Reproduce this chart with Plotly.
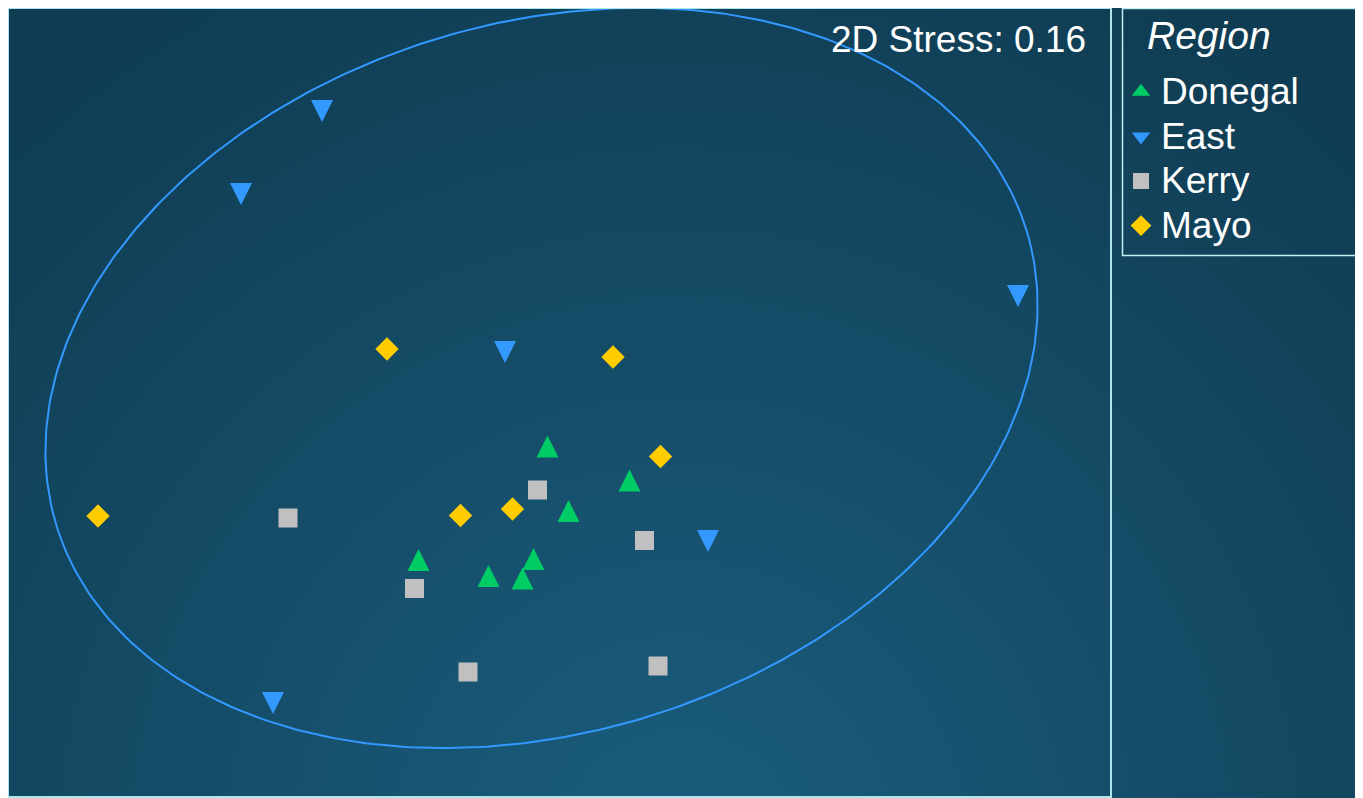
import base64
import numpy as np
import plotly.graph_objects as go

# ---------------- data (NMDS scores) ----------------
regions = ["Donegal", "East", "Kerry", "Mayo"]

donegal_x = [-0.024, 0.140, 0.018, -0.282, -0.142, -0.052, -0.074]
donegal_y = [-0.088, -0.156, -0.217, -0.315, -0.347, -0.313, -0.352]

east_x = [-0.475, -0.637, -0.109, 0.917, 0.297, -0.573]
east_y = [0.583, 0.417, 0.101, 0.213, -0.277, -0.601]

kerry_x = [-0.044, 0.170, -0.290, -0.543, -0.183, 0.197]
kerry_y = [-0.175, -0.276, -0.372, -0.231, -0.539, -0.527]

mayo_x = [-0.198, -0.094, 0.202, -0.923, -0.345, 0.107]
mayo_y = [-0.226, -0.213, -0.108, -0.227, 0.107, 0.091]

stress_label = "2D Stress: 0.16"
legend_title = "Region"

# East confidence ellipse parameters
ellipse_center = (-0.036, 0.049)
ellipse_axes = (1.014, 0.710)
ellipse_angle_deg = 16.8

# ---------------- layout geometry ----------------
OFF = 8                      # page offset of the figure (body margin)
W, H = 1363, 798
ML, MT = 1, 1
plot_w, plot_h = 1101, 787
MR = W - ML - plot_w
MB = H - MT - plot_h
x_range = [-1.101, 1.101]
y_range = [-0.787, 0.787]
px_per_unit_y = plot_h / (y_range[1] - y_range[0])


def px(page_x):
    return (page_x - OFF - ML) / plot_w


def py(page_y):
    return 1 - (page_y - OFF - MT) / plot_h


colors = {"Donegal": "#00cc66", "East": "#3399ff", "Kerry": "#c0c0c0", "Mayo": "#ffcc00"}
FONT = "Liberation Sans, Arial, sans-serif"
FRAME = "#aee4ec"

fig = go.Figure()

# ellipse
t = np.linspace(0, 2 * np.pi, 400)
ang = np.deg2rad(ellipse_angle_deg)
ex = ellipse_center[0] + ellipse_axes[0] * np.cos(t) * np.cos(ang) - ellipse_axes[1] * np.sin(t) * np.sin(ang)
ey = ellipse_center[1] + ellipse_axes[0] * np.cos(t) * np.sin(ang) + ellipse_axes[1] * np.sin(t) * np.cos(ang)
fig.add_trace(go.Scatter(x=ex, y=ey, mode="lines", line=dict(color=colors["East"], width=2),
                         hoverinfo="skip", showlegend=False))

# triangles use arrow symbols (tip at anchor) -> shift anchor so shape centres on the value
tri_size = 22
tri_shift = (tri_size / 2) / px_per_unit_y

fig.add_trace(go.Scatter(x=donegal_x, y=[v + tri_shift for v in donegal_y], mode="markers",
                         marker=dict(symbol="arrow-up", size=tri_size, color=colors["Donegal"], line=dict(width=0)),
                         name="Donegal", showlegend=False))
fig.add_trace(go.Scatter(x=east_x, y=[v - tri_shift for v in east_y], mode="markers",
                         marker=dict(symbol="arrow-down", size=tri_size, color=colors["East"], line=dict(width=0)),
                         name="East", showlegend=False))
fig.add_trace(go.Scatter(x=kerry_x, y=kerry_y, mode="markers",
                         marker=dict(symbol="square", size=19, color=colors["Kerry"], line=dict(width=0)),
                         name="Kerry", showlegend=False))
fig.add_trace(go.Scatter(x=mayo_x, y=mayo_y, mode="markers",
                         marker=dict(symbol="diamond", size=18, color=colors["Mayo"], line=dict(width=0)),
                         name="Mayo", showlegend=False))

# legend entries
legend_symbols = ["triangle-up", "triangle-down", "square", "diamond"]
for reg, sym in zip(regions, legend_symbols):
    fig.add_trace(go.Scatter(x=[None], y=[None], mode="markers",
                             name=f'<span style="font-size:37px">{reg}</span>',
                             marker=dict(symbol=sym, size=20, color=colors[reg], line=dict(width=0))))

svg = (f'<svg xmlns="http://www.w3.org/2000/svg" width="{W}" height="{H}">'
       '<defs><radialGradient id="g" gradientUnits="userSpaceOnUse" cx="672" cy="842" r="1000">'
       '<stop offset="0" stop-color="#1a5d7d"/><stop offset="1" stop-color="#0f3c52"/>'
       '</radialGradient></defs>'
       f'<rect width="{W}" height="{H}" fill="url(#g)"/></svg>')
bg_src = "data:image/svg+xml;base64," + base64.b64encode(svg.encode()).decode()

axis_common = dict(showgrid=False, zeroline=False, showticklabels=False, ticks="",
                   showline=True, mirror=True, linecolor=FRAME, linewidth=2, fixedrange=True)

fig.update_layout(
    width=W, height=H,
    margin=dict(l=ML, r=MR, t=MT, b=MB, autoexpand=False),
    paper_bgcolor="#0f3c52",
    plot_bgcolor="rgba(0,0,0,0)",
    xaxis=dict(range=x_range, **axis_common),
    yaxis=dict(range=y_range, **axis_common),
    font=dict(family=FONT, color="white", size=32),
    showlegend=True,
    legend=dict(
        x=px(1121), xanchor="left", y=py(64.5), yanchor="top",
        bgcolor="rgba(0,0,0,0)", borderwidth=0,
        font=dict(family=FONT, color="white", size=32),
        itemsizing="trace",
    ),
    shapes=[dict(type="rect", xref="paper", yref="paper",
                 x0=px(1122.5), x1=px(1420), y0=py(8.5), y1=py(255.5),
                 line=dict(color="#c4eef2", width=1.5), fillcolor="rgba(0,0,0,0)", layer="above")],
    annotations=[
        dict(text=stress_label, xref="paper", yref="paper",
             x=px(1088), y=py(39), xanchor="right", yanchor="middle", showarrow=False,
             font=dict(family=FONT, color="white", size=37)),
        dict(text=f"<i>{legend_title}</i>", xref="paper", yref="paper",
             x=px(1145), y=py(35), xanchor="left", yanchor="middle", showarrow=False,
             font=dict(family=FONT, color="white", size=39)),
    ],
    images=[dict(source=bg_src, xref="paper", yref="paper",
                 x=px(OFF), y=py(OFF), sizex=W / plot_w, sizey=H / plot_h,
                 xanchor="left", yanchor="top", sizing="stretch", layer="below")],
)

fig.write_html("out.html")
